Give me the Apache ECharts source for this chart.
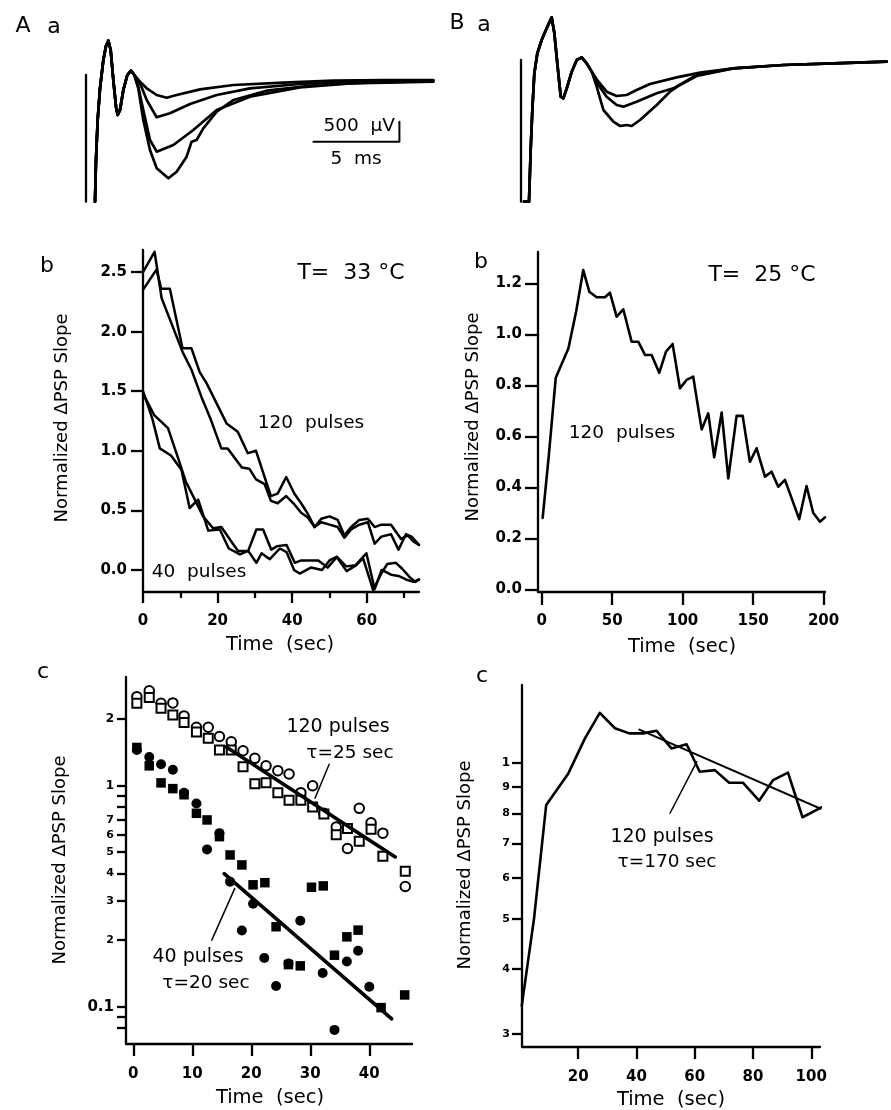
<!DOCTYPE html>
<html><head><meta charset="utf-8">
<script src="https://cdn.jsdelivr.net/npm/echarts@6/dist/echarts.min.js"></script>
<style>html,body{margin:0;padding:0;background:#fff}#c{width:891px;height:1110px}</style>
</head><body><div id="c"></div>
<script>
// ---------- Panel A a : field potential traces (ms, µV) ----------
const aaArtifactT = [0, 0];
const aaArtifactV = [125, -3042];
const aaCommonT = [0.523,0.581,0.678,0.814,1.008,1.163,1.298,1.434,1.589,1.744,1.841,1.977,2.171,2.403,2.616,2.81];
const aaCommonV = [-3042,-2000,-1000,-208,500,850,983,750,0,-667,-875,-750,-250,125,233,125];
const aaTrace1T = [3.14,3.53,4.11,4.69,5.27,6.63,8.57,11.47,14.38,17.29,20.19];
const aaTrace1V = [-42,-208,-375,-442,-375,-233,-125,-67,-17,0,0];
const aaTrace2T = [3.14,3.53,4.11,4.88,6.05,7.6,9.53,12.44,15.35,20.19];
const aaTrace2V = [-83,-500,-933,-833,-600,-375,-208,-100,-42,-17];
const aaTrace3T = [3.04,3.33,3.72,4.11,5.08,6.24,7.6,9.53,12.44,15.35,20.19];
const aaTrace3V = [-167,-750,-1500,-1792,-1625,-1250,-750,-417,-183,-83,-42];
const aaTrace4T = [3.04,3.33,3.72,4.11,4.79,5.27,5.85,6.14,6.43,6.82,7.6,8.57,10.5,13.41,16.32,20.19];
const aaTrace4V = [-208,-1000,-1750,-2208,-2458,-2292,-1917,-1542,-1500,-1208,-792,-500,-267,-125,-67,-25];
const scaleBarT = [13.22, 18.22, 18.22];
const scaleBarV = [-1542, -1542, -1042];

// ---------- Panel B a ----------
const baArtifactT = [0, 0];
const baArtifactV = [50, -3492];
const baCommonT = [0.174,0.465,0.562,0.659,0.775,0.95,1.2,1.49,1.78,1.94,2.11,2.31,2.46,2.66,2.95,3.24,3.53,3.82,4.11];
const baCommonV = [-3492,-3492,-2200,-1200,-283,217,550,842,1117,717,-33,-867,-908,-658,-242,50,117,-33,-242];
const baTrace1T = [4.5,4.98,5.56,6.14,6.72,7.5,9.05,10.41,12.34,15.25,18.16,21.26];
const baTrace1V = [-492,-742,-850,-825,-700,-550,-383,-267,-158,-75,-33,8];
const baTrace2T = [4.5,4.98,5.56,5.95,6.72,7.89,8.86,9.44,10.21,12.34,15.25,18.16,21.26];
const baTrace2V = [-575,-867,-1075,-1117,-992,-783,-658,-517,-325,-158,-75,-33,8];
const baTrace3T = [4.4,4.79,5.37,5.76,6.14,6.43,6.92,7.89,8.66,9.24,10.21,12.34,15.25,18.16,21.26];
const baTrace3V = [-617,-1200,-1492,-1600,-1575,-1600,-1450,-1075,-742,-575,-350,-158,-75,-33,8];

// ---------- Panel A b (T = 33 °C) ----------
const ab120aT = [0,3.1,5,8,10.6,13,15.7,18.2,21,22.7,26.5,28.5,30.3,32.6,34.3,36.1,38.4,40.6,42.4,44.2,46,47.8,50,52.2,54,55.8,58,60.3,62.1,63.9,66.5,68.5,70.5,72,74];
const ab120aV = [2.5,2.67,2.28,2.04,1.83,1.68,1.45,1.26,1.02,1.02,0.86,0.85,0.76,0.72,0.58,0.56,0.62,0.55,0.48,0.44,0.36,0.40,0.38,0.36,0.27,0.34,0.38,0.40,0.22,0.28,0.30,0.17,0.30,0.28,0.21];
const ab120bT = [0,3.6,4.9,7.2,10.6,13,15.2,17,22.4,25.4,28.1,30.3,32.6,34.3,36.1,38.4,40.6,42.4,44.2,46,47.8,50,52.2,54,55.8,58,60.3,62.1,63.9,66.5,69.2,71,72.5,74];
const ab120bV = [2.35,2.52,2.36,2.36,1.86,1.86,1.66,1.57,1.23,1.16,0.98,1.0,0.78,0.62,0.64,0.78,0.64,0.56,0.47,0.36,0.43,0.45,0.42,0.29,0.36,0.42,0.43,0.36,0.38,0.38,0.26,0.29,0.24,0.21];
const ab40aT = [0,2.5,4.5,7.5,10.3,12.5,14.8,17.5,20.6,23,26,28.2,30.4,32.2,34.4,36,38.5,40.7,42.4,44.5,47,49.5,52,54.5,57,59.9,62.1,64,66.5,68.5,70.5,72.5,74];
const ab40aV = [1.5,1.27,1.02,0.96,0.84,0.52,0.59,0.33,0.34,0.18,0.13,0.16,0.34,0.34,0.17,0.2,0.21,0.06,0.08,0.08,0.08,0.02,0.11,0.03,0.04,0.14,-0.16,0.0,-0.04,-0.05,-0.08,-0.1,-0.08];
const ab40bT = [0,3,6.7,9.5,11.5,13.9,16.1,18.8,21,24.1,25.5,28.2,30.4,31.8,34,36.7,38.5,40.5,42,45,48,50,51.9,54.6,57.2,59,61.7,63.9,65.5,67.8,69.5,71.5,73,74];
const ab40bV = [1.48,1.3,1.19,0.93,0.74,0.59,0.45,0.35,0.36,0.22,0.16,0.16,0.06,0.14,0.09,0.18,0.15,0.0,-0.03,0.02,0.0,0.08,0.11,-0.01,0.04,0.1,-0.17,-0.03,0.05,0.06,0.01,-0.06,-0.1,-0.08];
const abXTicks = [0,20,40,60];
const abXMinor = [10,30,50,70];
const abYTicks = [0,0.5,1,1.5,2,2.5];

// ---------- Panel B b (T = 25 °C) ----------
const bbT = [0.7,5,10,19,24.5,29.5,33.8,39,44.9,48.4,53.2,57.9,63.8,68.5,73.3,78,83.4,88.2,92.9,98.1,102.8,107.5,113.5,118.2,122.4,127.7,132.4,138.3,142.6,147.7,152.5,158.4,163.1,167.8,172.6,182.7,187.9,192.6,197.4,201];
const bbV = [0.28,0.52,0.83,0.945,1.09,1.252,1.167,1.145,1.145,1.163,1.069,1.098,0.971,0.971,0.919,0.919,0.849,0.932,0.962,0.788,0.821,0.834,0.627,0.69,0.518,0.693,0.435,0.68,0.68,0.5,0.553,0.442,0.461,0.402,0.429,0.275,0.405,0.3,0.265,0.282];
const bbXTicks = [0,50,100,150,200];
const bbYTicks = [0,0.2,0.4,0.6,0.8,1.0,1.2];

// ---------- Panel A c (log scale) ----------
const acT = [0.6,2.7,4.7,6.7,8.6,10.7,12.7,14.6,16.6,18.6,20.6,22.5,24.5,26.4,28.4,30.4,32.3,34.4,36.3,38.3,40.3,42.3,46.1];
const ac120Circles = [2.53,2.69,2.36,2.37,2.07,1.84,1.84,1.67,1.58,1.44,1.33,1.23,1.17,1.13,0.93,1.0,0.75,0.65,0.52,0.79,0.68,0.61,0.35];
const ac120Squares = [2.36,2.51,2.24,2.09,1.93,1.75,1.64,1.45,1.45,1.22,1.02,1.03,0.93,0.86,0.86,0.80,0.745,0.60,0.64,0.56,0.635,0.48,0.41];
const ac40CircleT = [0.6,2.7,4.7,6.7,8.6,10.7,12.5,14.6,16.4,18.4,20.3,22.2,24.2,26.3,28.3,32.1,34.1,36.2,38.1,40];
const ac40Circles = [1.45,1.35,1.25,1.18,0.93,0.83,0.515,0.61,0.368,0.221,0.292,0.166,0.124,0.157,0.245,0.142,0.0785,0.16,0.179,0.123];
const ac40SquareT = [0.6,2.7,4.7,6.7,8.6,10.7,12.5,14.6,16.4,18.4,20.3,22.3,24.2,26.3,28.3,30.2,32.2,34.1,36.2,38.1,42,46];
const ac40Squares = [1.49,1.23,1.03,0.97,0.91,0.75,0.70,0.588,0.486,0.438,0.356,0.364,0.23,0.155,0.153,0.347,0.352,0.171,0.207,0.222,0.099,0.113];
const ac120FitT = [15.7, 44.4];
const ac120FitV = [1.5, 0.476];
const ac40FitT = [15.4, 43.8];
const ac40FitV = [0.40, 0.088];
const ac120PointerT = [33.2, 30.8];
const ac120PointerV = [1.25, 0.877];
const ac40PointerT = [13.3, 17.2];
const ac40PointerV = [0.2, 0.343];
const acXTicks = [0,10,20,30,40];
const acYTicks = [2,1,0.9,0.8,0.7,0.6,0.5,0.4,0.3,0.2,0.1,0.09,0.08];
const acYLabelVals = [2,1,0.7,0.6,0.5,0.4,0.3,0.2,0.1];
const acYLabels = ['2','1','7','6','5','4','3','2','0.1'];

// ---------- Panel B c (log scale) ----------
const bcT = [0.6,4.8,9,16.6,22.3,27.4,32.6,37.5,42.3,46.9,52,57.2,61.7,66.9,71.8,76.6,82.1,86.9,92,97,103.5];
const bcV = [0.34,0.50,0.83,0.955,1.116,1.25,1.167,1.141,1.141,1.154,1.067,1.087,0.962,0.969,0.916,0.916,0.846,0.927,0.958,0.786,0.821];
const bcFitT = [41, 103.5];
const bcFitV = [1.16, 0.815];
const bcPointerT = [51.5, 60.7];
const bcPointerV = [0.80, 1.006];
const bcXTicks = [20,40,60,80,100];
const bcYTicks = [1,0.9,0.8,0.7,0.6,0.5,0.4,0.3];
const bcYLabels = ['1','9','8','7','6','5','4','3'];

// ---------- build ----------
const FONT = '"DejaVu Sans", sans-serif';
const BLACK = '#000';
const pts = (t, v) => t.map((x, i) => [x, v[i]]);
const logPts = (t, v) => t.map((x, i) => [x, Math.log10(v[i])]);
const L10 = a => a.map(v => Math.log10(v));

function line(xi, data, width, z) {
  return {type: 'line', xAxisIndex: xi, yAxisIndex: xi, data, symbol: 'none', showSymbol: false,
    lineStyle: {color: BLACK, width: width, join: 'round', cap: 'round'}, itemStyle: {color: BLACK},
    z: z || 2, animation: false, silent: true};
}
function scatter(xi, data, symbol, size, bw) {
  return {type: 'scatter', xAxisIndex: xi, yAxisIndex: xi, data, symbol, symbolSize: size,
    itemStyle: {color: BLACK, borderColor: BLACK, borderWidth: bw || 0, opacity: 1}, z: 3, animation: false, silent: true};
}
function hiddenAxis(gi, min, max) {
  return {type: 'value', gridIndex: gi, min, max, show: false, splitLine: {show: false}};
}
function axis(gi, min, max, ticks, labelVals, fmt, opts) {
  return {
    type: 'value', gridIndex: gi, min, max, splitLine: {show: false},
    axisLine: {show: true, onZero: false, lineStyle: {color: BLACK, width: 2.3}},
    axisTick: {show: true, length: opts.tickLen, lineStyle: {color: BLACK, width: 2.3}, customValues: ticks},
    axisLabel: {show: true, customValues: labelVals, margin: opts.margin, color: BLACK,
      fontFamily: FONT, fontSize: opts.fontSize || 15, fontWeight: 'bold', formatter: fmt, rich: opts.rich}
  };
}

const grids = [
  {left: 80, top: 30, width: 360, height: 180},      // A a
  {left: 510, top: 10, width: 381, height: 200},     // B a
  {left: 143, top: 250, width: 276, height: 342},    // A b
  {left: 538, top: 252, width: 287, height: 340},    // B b
  {left: 126, top: 677, width: 286, height: 367},    // A c
  {left: 522, top: 685, width: 298, height: 362}     // B c
];

function nearestLabel(val, vals, labels) {
  let best = 0, bd = Infinity;
  vals.forEach((v, i) => { const d = Math.abs(Math.log10(v) - val); if (d < bd) { bd = d; best = i; } });
  return labels[best];
}

const xAxes = [
  hiddenAxis(0, -0.349, 20.58),
  hiddenAxis(1, -0.6395, 21.51),
  axis(2, 0, 74, abXTicks, abXTicks, v => String(Math.round(v)), {tickLen: 11, margin: 22}),
  axis(3, -2.6, 201, bbXTicks, bbXTicks, v => String(Math.round(v)), {tickLen: 13, margin: 22}),
  axis(4, -1.24, 47.24, acXTicks, acXTicks, v => String(Math.round(v)), {tickLen: 12, margin: 23}),
  axis(5, 0.69, 103, bcXTicks, bcXTicks, v => String(Math.round(v)), {tickLen: 12, margin: 23}),
  // minor ticks for A b x axis
  {type: 'value', gridIndex: 2, position: 'bottom', offset: 0, min: 0, max: 74, splitLine: {show: false},
   axisLine: {show: false, onZero: false}, axisLabel: {show: false, customValues: abXMinor},
   axisTick: {show: true, inside: false, length: 6, lineStyle: {color: BLACK, width: 2.3}, customValues: abXMinor}}
];
const yAxes = [
  hiddenAxis(0, -3250, 1250),
  hiddenAxis(1, -3700, 1300),
  axis(2, -0.185, 2.685, abYTicks, abYTicks, v => v.toFixed(1), {tickLen: 12, margin: 16}),
  axis(3, -0.0106, 1.3227, bbYTicks, bbYTicks, v => v.toFixed(1), {tickLen: 13, margin: 16}),
  axis(4, -1.169, 0.492, L10(acYTicks), L10(acYLabelVals), v => {
      const s = nearestLabel(v, acYLabelVals, acYLabels);
      if (s === '0.1') return '{b|0.1}';
      if (s === '2' && v > 0) return '{m|2}';
      if (s === '1') return '{m|1}';
      return '{s|' + s + '}';
    }, {tickLen: 9, margin: 12,
      rich: {b: {fontSize: 15, fontWeight: 'bold', fontFamily: FONT, color: BLACK},
             m: {fontSize: 12, fontWeight: 'bold', fontFamily: FONT, color: BLACK},
             s: {fontSize: 11, fontWeight: 'bold', fontFamily: FONT, color: BLACK}}}),
  axis(5, -0.548, 0.1506, L10(bcYTicks), L10(bcYTicks), v => {
      const s = nearestLabel(v, bcYTicks, bcYLabels);
      return (s === '1' ? '{m|' : '{s|') + s + '}';
    }, {tickLen: 10, margin: 12,
      rich: {m: {fontSize: 12, fontWeight: 'bold', fontFamily: FONT, color: BLACK},
             s: {fontSize: 11, fontWeight: 'bold', fontFamily: FONT, color: BLACK}}})
];

const series = [];
// A a
series.push(line(0, pts(aaArtifactT, aaArtifactV), 2.3));
[[aaTrace1T, aaTrace1V], [aaTrace2T, aaTrace2V], [aaTrace3T, aaTrace3V], [aaTrace4T, aaTrace4V]].forEach(([t, v]) => {
  series.push(line(0, pts(aaCommonT.concat(t), aaCommonV.concat(v)), 2.7));
});
series.push(line(0, pts(scaleBarT, scaleBarV), 2));
// B a
series.push(line(1, pts(baArtifactT, baArtifactV), 2.3));
[[baTrace1T, baTrace1V], [baTrace2T, baTrace2V], [baTrace3T, baTrace3V]].forEach(([t, v]) => {
  series.push(line(1, pts(baCommonT.concat(t), baCommonV.concat(v)), 2.7));
});
// A b
[[ab120aT, ab120aV], [ab120bT, ab120bV], [ab40aT, ab40aV], [ab40bT, ab40bV]].forEach(([t, v]) => {
  series.push(line(2, pts(t, v), 2.5));
});
// B b
series.push(line(3, pts(bbT, bbV), 2.6));
// A c
series.push(scatter(4, logPts(acT, ac120Circles), 'emptyCircle', 9.5, 1.6));
series.push(scatter(4, logPts(acT, ac120Squares), 'emptyRect', 9, 1.6));
series.push(scatter(4, logPts(ac40CircleT, ac40Circles), 'circle', 10));
series.push(scatter(4, logPts(ac40SquareT, ac40Squares), 'rect', 9.5));
series.push(line(4, logPts(ac120FitT, ac120FitV), 3.6, 4));
series.push(line(4, logPts(ac40FitT, ac40FitV), 3.6, 4));
series.push(line(4, logPts(ac120PointerT, ac120PointerV), 1.5, 4));
series.push(line(4, logPts(ac40PointerT, ac40PointerV), 1.5, 4));
// B c
series.push(line(5, logPts(bcT, bcV), 2.6));
series.push(line(5, logPts(bcFitT, bcFitV), 2));
series.push(line(5, logPts(bcPointerT, bcPointerV), 1.5));

function txt(x, y, text, size, opts) {
  opts = opts || {};
  return {type: 'text', x, y, rotation: opts.rot || 0, silent: true, z: 100,
    style: {text, font: (opts.weight || 'normal') + ' ' + size + 'px ' + FONT, fill: BLACK,
      align: opts.align || 'center', verticalAlign: 'middle',
      textAlign: opts.align || 'center', textVerticalAlign: 'middle'}};
}
const YNAME = 'Normalized \u0394PSP Slope';
const graphics = [
  txt(23, 26, 'A', 22), txt(54, 27, 'a', 22),
  txt(457, 23, 'B', 22), txt(484, 25, 'a', 22),
  txt(47, 266, 'b', 22), txt(481, 262, 'b', 22),
  txt(43, 672, 'c', 22), txt(482, 676, 'c', 22),
  txt(395, 126, '500  \u00b5V', 18.5, {align: 'right'}),
  txt(356, 159, '5  ms', 18.5),
  txt(351, 273, 'T=  33 \u00b0C', 22),
  txt(762, 275, 'T=  25 \u00b0C', 22),
  txt(311, 423, '120  pulses', 18.5),
  txt(199, 572, '40  pulses', 18.5),
  txt(622, 433, '120  pulses', 18.5),
  txt(338, 727, '120 pulses', 19),
  txt(350, 753, '\u03c4=25 sec', 18.5),
  txt(198, 957, '40 pulses', 19),
  txt(206, 983, '\u03c4=20 sec', 18.5),
  txt(662, 837, '120 pulses', 19),
  txt(667, 862, '\u03c4=170 sec', 18.5),
  txt(280, 645, 'Time  (sec)', 19.5),
  txt(682, 647, 'Time  (sec)', 19.5),
  txt(270, 1098, 'Time  (sec)', 19.5),
  txt(671, 1100, 'Time  (sec)', 19.5),
  txt(62, 418, YNAME, 18, {rot: Math.PI / 2}),
  txt(473, 417, YNAME, 18, {rot: Math.PI / 2}),
  txt(60, 860, YNAME, 18, {rot: Math.PI / 2}),
  txt(465, 865, YNAME, 18, {rot: Math.PI / 2})
];

const chart = echarts.init(document.getElementById('c'), null, {renderer: 'canvas'});
chart.setOption({
  backgroundColor: '#fff',
  animation: false,
  grid: grids,
  xAxis: xAxes,
  yAxis: yAxes,
  series,
  graphic: graphics
});
</script></body></html>
